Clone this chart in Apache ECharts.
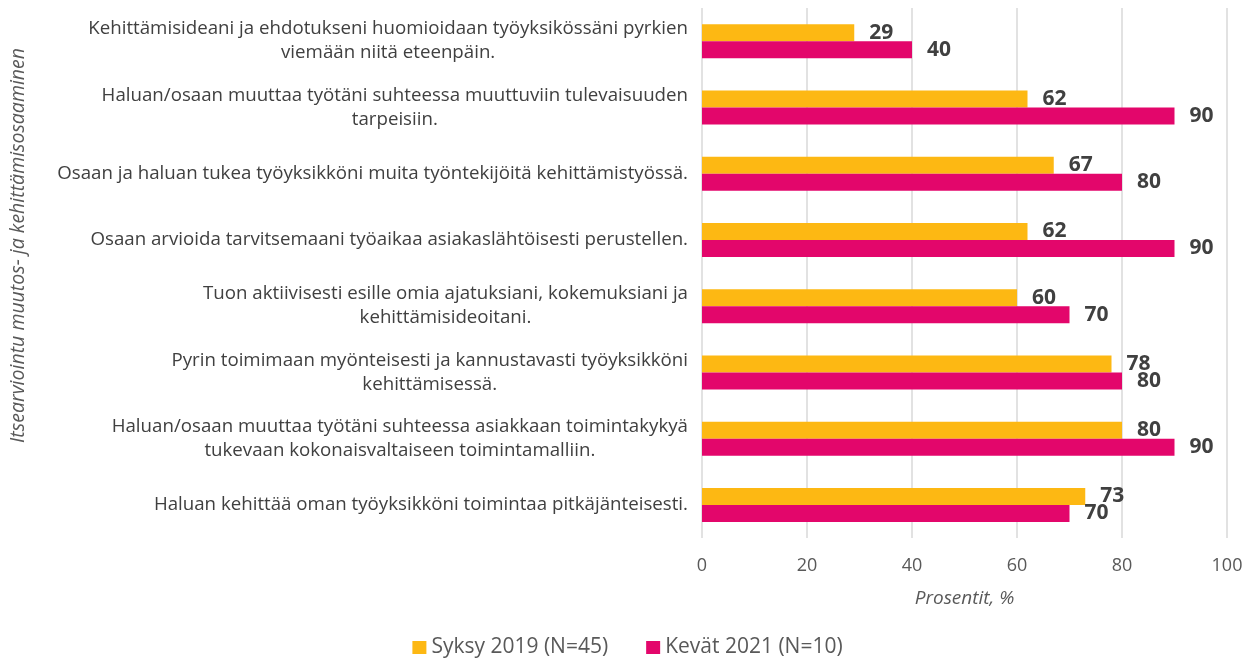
<!DOCTYPE html>
<html>
<head>
<meta charset="utf-8">
<script src="https://cdn.jsdelivr.net/npm/echarts@6/dist/echarts.min.js"></script>
<style>
  html, body { margin: 0; padding: 0; background: #fff; }
  #chart { width: 1255px; height: 666px; }
</style>
</head>
<body>
<div id="chart"></div>
<script>
// väittämät ylhäältä alas
const categories = [
  'Kehittämisideani ja ehdotukseni huomioidaan työyksikössäni pyrkien\nviemään niitä eteenpäin.',
  'Haluan/osaan muuttaa työtäni suhteessa muuttuviin tulevaisuuden\ntarpeisiin.',
  'Osaan ja haluan tukea työyksikköni muita työntekijöitä kehittämistyössä.',
  'Osaan arvioida tarvitsemaani työaikaa asiakaslähtöisesti perustellen.',
  'Tuon aktiivisesti esille omia ajatuksiani, kokemuksiani ja\nkehittämisideoitani.',
  'Pyrin toimimaan myönteisesti ja kannustavasti työyksikköni\nkehittämisessä.',
  'Haluan/osaan muuttaa työtäni suhteessa asiakkaan toimintakykyä\ntukevaan kokonaisvaltaiseen toimintamalliin.',
  'Haluan kehittää oman työyksikköni toimintaa pitkäjänteisesti.'
]
const syksy2019 = [29, 62, 67, 62, 60, 78, 80, 73]
const kevat2021 = [40, 90, 80, 90, 70, 80, 90, 70]
const seriesNames = ['Syksy 2019 (N=45)', 'Kevät 2021 (N=10)']
const xAxisName = 'Prosentit, %'
const yAxisName = 'Itsearviointu muutos- ja kehittämisosaaminen'

const FONT = '"Open Sans", sans-serif'
const chart = echarts.init(document.getElementById('chart'))

const valueLabel = {
  show: true,
  position: 'right',
  distance: 15,
  color: '#404040',
  fontFamily: FONT,
  fontWeight: 'bold',
  fontSize: 21
}

chart.setOption({
  animation: false,
  textStyle: { fontFamily: FONT },
  grid: { left: 702, right: 28, top: 8, bottom: 128 },
  legend: {
    bottom: 3,
    left: 'center',
    itemWidth: 14,
    itemHeight: 13,
    itemGap: 38,
    icon: 'rect',
    textStyle: { color: '#595959', fontSize: 21, fontFamily: FONT },
    data: seriesNames
  },
  graphic: [{
    type: 'text',
    left: 8,
    top: 48,
    rotation: Math.PI / 2,
    style: {
      text: yAxisName,
      fill: '#595959',
      font: 'italic 19.5px ' + FONT
    }
  }],
  xAxis: {
    type: 'value',
    min: 0,
    max: 100,
    interval: 20,
    name: xAxisName,
    nameLocation: 'middle',
    nameGap: 51,
    nameTextStyle: { color: '#595959', fontStyle: 'italic', fontSize: 19, fontFamily: FONT },
    axisLine: { show: false },
    axisTick: { show: false },
    axisLabel: { color: '#595959', fontSize: 18, margin: 19, fontFamily: FONT },
    splitLine: { lineStyle: { color: '#d9d9d9', width: 1.5 } }
  },
  yAxis: {
    type: 'category',
    inverse: true,
    data: categories,
    axisLine: { show: false },
    axisTick: { show: false },
    axisLabel: {
      margin: 14,
      formatter: v => v.split('\n').map(l => '{c|' + l + '}').join('\n'),
      rich: {
        c: { align: 'center', color: '#404040', fontSize: 18.7, lineHeight: 24, fontFamily: FONT }
      }
    }
  },
  series: [
    {
      name: seriesNames[0],
      type: 'bar',
      data: syksy2019,
      barWidth: 17,
      barGap: '0%',
      itemStyle: { color: '#FDB813' },
      label: valueLabel
    },
    {
      name: seriesNames[1],
      type: 'bar',
      data: kevat2021,
      barWidth: 17,
      itemStyle: { color: '#E3066B' },
      label: valueLabel
    }
  ]
})
</script>
</body>
</html>
